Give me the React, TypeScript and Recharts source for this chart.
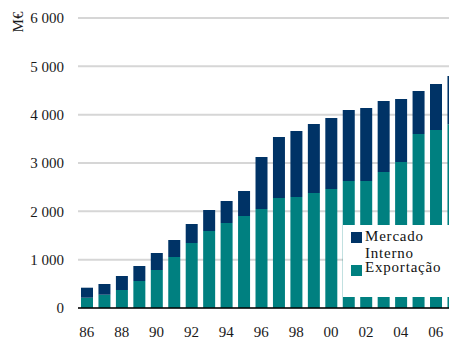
import { BarChart, Bar, XAxis, YAxis, CartesianGrid, Legend } from "recharts";

const YEARS = [86, 87, 88, 89, 90, 91, 92, 93, 94, 95, 96, 97, 98, 99, 100, 101, 102, 103, 104, 105, 106, 107];
const EXPORTACAO = [213, 275, 372, 559, 786, 1055, 1345, 1593, 1759, 1903, 2048, 2276, 2297, 2380, 2462, 2628, 2628, 2814, 3021, 3600, 3683, 3800];
const MERCADO_INTERNO = [207, 222, 290, 310, 352, 352, 393, 435, 455, 518, 1076, 1262, 1365, 1427, 1469, 1469, 1510, 1469, 1303, 890, 952, 1000];
const X_TICKS = [86, 88, 90, 92, 94, 96, 98, 100, 102, 104, 106];
const Y_TICKS = [0, 1000, 2000, 3000, 4000, 5000, 6000];

const NAVY = "#003366";
const TEAL = "#008080";
const FONT = "Liberation Serif, Times New Roman, Times, serif";

const data = YEARS.map((year, i) => ({
  year,
  exportacao: EXPORTACAO[i],
  mercado: MERCADO_INTERNO[i],
}));

const fmtY = (v: number) => (v >= 1000 ? `${Math.floor(v / 1000)} ${String(v % 1000).padStart(3, "0")}` : String(v));
const fmtX = (v: number) => String(v % 100).padStart(2, "0");

function LegendBox() {
  const text = { position: "absolute" as const, left: 22, fontSize: 15, lineHeight: "17px", letterSpacing: 0.8, color: "#111", fontFamily: FONT, whiteSpace: "nowrap" as const };
  return (
    <div style={{ position: "relative", width: 106, height: 72, background: "#fff", overflow: "hidden" }}>
      <div style={{ position: "absolute", left: 8, top: 7, width: 11, height: 11, background: NAVY }} />
      <span style={{ ...text, top: 3 }}>Mercado</span>
      <span style={{ ...text, top: 20 }}>Interno</span>
      <div style={{ position: "absolute", left: 8, top: 40, width: 11, height: 11, background: TEAL }} />
      <span style={{ ...text, top: 34 }}>Exportação</span>
    </div>
  );
}

export default function App() {
  return (
    <div style={{ width: 441, height: 333, padding: "8px 0 0 8px", fontFamily: FONT }}>
      <style>{"body{margin:0}"}</style>
      <BarChart width={441} height={333} data={data} margin={{ top: 10, right: 0, bottom: 0, left: 0 }}>
        <CartesianGrid horizontal vertical={false} stroke="#d6d6d6" strokeWidth={2} />
        <XAxis
          dataKey="year"
          type="number"
          domain={[85.5, 106.76]}
          allowDataOverflow
          ticks={X_TICKS}
          tickFormatter={fmtX}
          tickLine={false}
          axisLine={{ stroke: "#000", strokeWidth: 1.5 }}
          height={33}
          tickMargin={12}
          tick={{ fill: "#1a1a1a", fontSize: 15, fontFamily: FONT }}
        />
        <YAxis
          domain={[0, 6000]}
          ticks={Y_TICKS}
          tickFormatter={fmtY}
          width={70}
          axisLine={false}
          tickLine={false}
          tickMargin={8}
          tick={{ fill: "#1a1a1a", fontSize: 15, fontFamily: FONT }}
          label={{
            content: () => (
              <text x={15} y={14} transform="rotate(-90 15 14)" textAnchor="middle" fontSize={15} fontFamily={FONT} fill="#1a1a1a">
                M€
              </text>
            ),
          }}
        />
        <Bar dataKey="exportacao" stackId="a" fill={TEAL} barSize={12} isAnimationActive={false} />
        <Bar dataKey="mercado" stackId="a" fill={NAVY} barSize={12} isAnimationActive={false} />
        <Legend
          layout="horizontal"
          verticalAlign="middle"
          align="center"
          content={() => <LegendBox />}
          wrapperStyle={{ position: "absolute", left: 335, top: 217, width: 106, height: 72 }}
        />
      </BarChart>
    </div>
  );
}
